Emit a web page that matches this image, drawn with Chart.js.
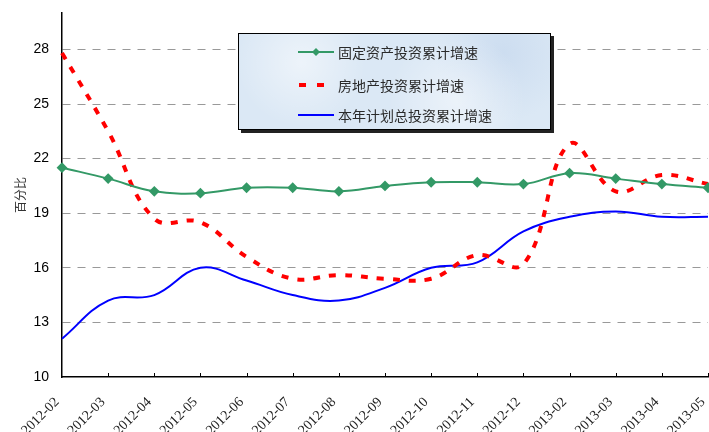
<!DOCTYPE html>
<html>
<head>
<meta charset="utf-8">
<script src="https://cdn.jsdelivr.net/npm/chart.js@4/dist/chart.umd.min.js"></script>
<style>
  html, body { margin: 0; padding: 0; background: #fff; }
  #wrap { position: relative; width: 709px; height: 432px; }
  #legend {
    position: absolute; left: 238px; top: 33px; width: 311px; height: 95px;
    border: 1px solid #000; box-shadow: 3px 3px 0 #222;
    background:
      radial-gradient(circle at 20% 30%, rgba(255,255,255,.5) 0, rgba(255,255,255,0) 25%),
      radial-gradient(circle at 70% 70%, rgba(255,255,255,.45) 0, rgba(255,255,255,0) 30%),
      radial-gradient(circle at 85% 20%, rgba(190,210,235,.5) 0, rgba(190,210,235,0) 25%),
      #dbe8f5;
    font-family: "Noto Sans CJK SC", sans-serif; font-size: 14px; color: #2a2a2a;
  }
  .row { position: absolute; left: 59px; height: 20px; display: flex; align-items: center; }
  .row svg { margin-right: 4px; }
</style>
</head>
<body>
<div id="wrap">
  <canvas id="chart" width="709" height="432"></canvas>
  <div id="legend"></div>
</div>
<script>
const labels = ["2012-02", "2012-03", "2012-04", "2012-05", "2012-06", "2012-07", "2012-08", "2012-09",
  "2012-10", "2012-11", "2012-12", "2013-02", "2013-03", "2013-04", "2013-05"];

const fixedAsset = [21.5, 20.9, 20.2, 20.1, 20.4, 20.4, 20.2, 20.5, 20.7, 20.7, 20.6, 21.2, 20.9, 20.6, 20.4];
const realEstate = [27.8, 23.5, 18.7, 18.5, 16.6, 15.4, 15.6, 15.4, 15.4, 16.7, 16.2, 22.8, 20.2, 21.1, 20.6];
const plannedTotal = [12.1, 14.2, 14.5, 16.0, 15.3, 14.5, 14.2, 14.9, 16.0, 16.3, 18.0, 18.8, 19.1, 18.8, 18.8];

const yTicks = [10, 13, 16, 19, 22, 25, 28];

const seriesNames = ["固定资产投资累计增速", "房地产投资累计增速", "本年计划总投资累计增速"];
const green = "#339966";
const red = "#ff0000";
const blue = "#0000ff";

// legend (html, drawn over the chart)
const legendRows = [
  { top: 8, svg: `<svg width="36" height="10"><line x1="0" y1="5" x2="36" y2="5" stroke="${green}" stroke-width="2"/><polygon points="18,1 22,5 18,9 14,5" fill="${green}"/></svg>` },
  { top: 41, svg: `<svg width="36" height="10"><line x1="0" y1="5" x2="36" y2="5" stroke="${red}" stroke-width="4" stroke-dasharray="7 11" stroke-dashoffset="-1"/></svg>` },
  { top: 71, svg: `<svg width="36" height="10"><line x1="0" y1="5" x2="36" y2="5" stroke="${blue}" stroke-width="2"/></svg>` },
];
document.getElementById("legend").innerHTML = legendRows.map((r, i) =>
  `<div class="row" style="top:${r.top}px">${r.svg}<span>${seriesNames[i]}</span></div>`).join("");

const innerTicks = {
  id: "innerTicks",
  afterDraw(chart) {
    const ctx = chart.ctx;
    const x = chart.scales.x;
    ctx.save();
    ctx.strokeStyle = "#000";
    ctx.lineWidth = 1;
    for (let i = 1; i < labels.length; i++) {
      const px = Math.round(x.getPixelForTick(i)) + 0.5;
      ctx.beginPath();
      ctx.moveTo(px, x.top);
      ctx.lineTo(px, x.top - 4);
      ctx.stroke();
    }
    ctx.restore();
  }
};

new Chart(document.getElementById("chart").getContext("2d"), {
  type: "line",
  data: {
    labels: labels,
    datasets: [
      {
        label: seriesNames[0],
        data: fixedAsset,
        borderColor: green,
        backgroundColor: green,
        borderWidth: 2,
        pointStyle: "rectRot",
        pointRadius: 4,
        tension: 0.4
      },
      {
        label: seriesNames[1],
        data: realEstate,
        borderColor: red,
        borderWidth: 4,
        borderDash: [7, 9],
        pointRadius: 0,
        tension: 0.4
      },
      {
        label: seriesNames[2],
        data: plannedTotal,
        borderColor: blue,
        borderWidth: 2,
        pointRadius: 0,
        tension: 0.4
      }
    ]
  },
  options: {
    responsive: false,
    animation: false,
    layout: { autoPadding: false, padding: { top: 13, right: 1, left: 0, bottom: 0 } },
    plugins: {
      legend: { display: false },
      tooltip: { enabled: false }
    },
    scales: {
      x: {
        offset: false,
        grid: { display: false, drawTicks: false },
        border: { display: true, color: "#000", width: 1.5 },
        afterFit: (scale) => {
          scale.height = 55;
          scale.paddingLeft = 0;
          scale.paddingRight = 0;
        },
        ticks: {
          autoSkip: false,
          maxRotation: 45,
          minRotation: 45,
          padding: 17,
          labelOffset: -5,
          color: "#222",
          font: { family: "Liberation Serif", size: 14 }
        }
      },
      y: {
        min: 10,
        max: 30,
        afterFit: (scale) => {
          scale.width = 62;
          scale.paddingTop = 0;
          scale.paddingBottom = 0;
        },
        afterBuildTicks: (scale) => { scale.ticks = yTicks.map(v => ({ value: v })); },
        grid: {
          drawTicks: false,
          color: (c) => c.tick && c.tick.value === 10 ? "rgba(0,0,0,0)" : "#999",
          lineWidth: 1
        },
        border: { display: true, color: "#000", width: 1.5, dash: [8, 7] },
        ticks: {
          padding: 13,
          color: "#000",
          font: { family: "Liberation Sans", size: 14 }
        },
        title: {
          display: true,
          text: "百分比",
          color: "#333",
          padding: { top: 13, bottom: 4 },
          font: { family: "Noto Sans CJK SC", size: 12 }
        }
      }
    }
  },
  plugins: [innerTicks]
});
</script>
</body>
</html>
